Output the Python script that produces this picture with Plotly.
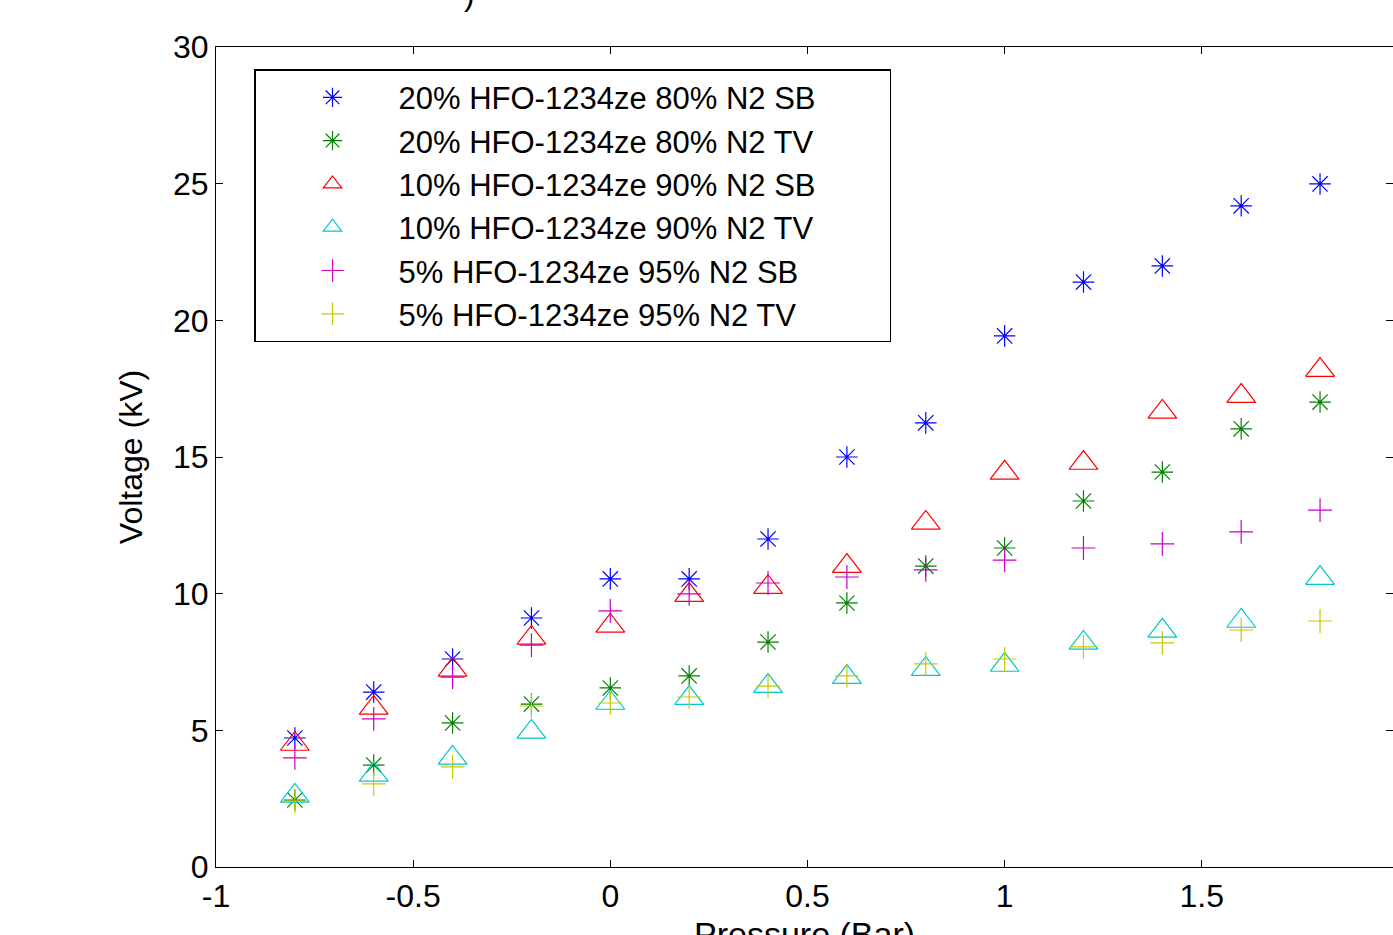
import plotly.graph_objects as go

pressure = [-0.8, -0.6, -0.4, -0.2, 0.0, 0.2, 0.4, 0.6, 0.8, 1.0, 1.2, 1.4, 1.6, 1.8, 2.0]

v20_sb = [4.72, 6.40, 7.61, 9.11, 10.54, 10.54, 12.0, 15.0, 16.25, 19.43, 21.4, 21.99, 24.19, 24.99, 27.44]
v20_tv = [2.45, 3.73, 5.27, 5.96, 6.55, 6.99, 8.23, 9.66, 11.01, 11.67, 13.39, 14.45, 16.03, 17.01, 18.07]
v10_sb = [4.5, 5.82, 7.21, 8.38, 8.82, 9.95, 10.24, 11.01, 12.59, 14.42, 14.78, 16.65, 17.23, 18.18, 20.97]
v10_tv = [2.6, 3.37, 3.99, 4.94, 6.0, 6.18, 6.62, 6.95, 7.24, 7.39, 8.2, 8.64, 9.0, 10.57, 11.78]
v5_sb = [3.99, 5.42, 6.95, 8.12, 9.37, 9.99, 10.39, 10.61, 10.87, 11.23, 11.67, 11.82, 12.26, 13.06, 14.96]
v5_tv = [2.41, 3.04, 3.66, 5.89, 6.0, 6.22, 6.62, 6.99, 7.43, 7.61, 8.05, 8.2, 8.67, 9.0, 9.66]

names = [
    "20% HFO-1234ze 80% N2 SB",
    "20% HFO-1234ze 80% N2 TV",
    "10% HFO-1234ze 90% N2 SB",
    "10% HFO-1234ze 90% N2 TV",
    "5% HFO-1234ze 95% N2 SB",
    "5% HFO-1234ze 95% N2 TV",
]
series = [v20_sb, v20_tv, v10_sb, v10_tv, v5_sb, v5_tv]
colors = ["#0000FF", "#008000", "#FF0000", "#00C8C8", "#C800C8", "#C8C800"]
symbols = ["asterisk-open", "asterisk-open", "triangle-up-open", "triangle-up-open",
           "cross-thin-open", "cross-thin-open"]
sizes = [18, 18, 25, 25, 17, 17]

PAD = "\u00a0" * 8

fig = go.Figure()
for i, (nm, vals) in enumerate(zip(names, series)):
    fig.add_trace(go.Scatter(
        x=pressure, y=vals, mode="markers", name=nm + PAD,
        cliponaxis=False,
        marker=dict(symbol=symbols[i], size=sizes[i], color=colors[i],
                    line=dict(color=colors[i], width=1.2)),
    ))

# invisible trace to carry the mirrored right-hand ticks
fig.add_trace(go.Scatter(x=[0], y=[0], yaxis="y2", mode="markers",
                         marker=dict(opacity=0), showlegend=False, hoverinfo="skip"))

font_family = "Liberation Sans, Arial, sans-serif"

fig.update_layout(
    width=1393, height=935,
    margin=dict(l=216, r=0, t=47, b=68),
    paper_bgcolor="white", plot_bgcolor="white",
    font=dict(family=font_family, size=32, color="black"),
    showlegend=True,
    legend=dict(
        x=0.0323, y=0.973, xanchor="left", yanchor="top",
        bgcolor="white", bordercolor="black", borderwidth=1.5,
        font=dict(size=31, family=font_family),
        indentation=11, itemwidth=122,
    ),
    xaxis=dict(
        range=[-1, 1.985], tickvals=[-1, -0.5, 0, 0.5, 1, 1.5],
        ticktext=["-1", "-0.5", "0", "0.5", "1", "1.5"],
        ticks="inside", ticklen=7, tickcolor="black", tickwidth=1.2,
        showline=True, linecolor="black", linewidth=1.2, mirror="ticks",
        showgrid=False, zeroline=False,
        automargin=False,
        tickfont=dict(size=32),
    ),
    yaxis=dict(
        range=[0, 30], tickvals=[0, 5, 10, 15, 20, 25, 30],
        ticks="inside", ticklen=7, tickcolor="black", tickwidth=1.2,
        showline=True, linecolor="black", linewidth=1.2, mirror=False,
        showgrid=False, zeroline=False,
        title=dict(text="Voltage (kV)", font=dict(size=32), standoff=20),
        automargin=False,
        tickfont=dict(size=32),
    ),
    yaxis2=dict(
        overlaying="y", side="right", matches="y", range=[0, 30],
        tickvals=[0, 5, 10, 15, 20, 25, 30],
        ticks="inside", ticklen=7, tickcolor="black", tickwidth=1.2,
        showticklabels=False, showline=False, showgrid=False, zeroline=False,
    ),
)

# x-axis title (partly below the visible page, as in the reference)
fig.add_annotation(text="Pressure (Bar)", xref="paper", yref="paper", x=0.5, y=-0.0555,
                   xanchor="center", yanchor="top", showarrow=False,
                   font=dict(size=34, family=font_family))

fig.add_annotation(text=")", xref="paper", yref="paper", x=0.215, y=1.04,
                   xanchor="center", yanchor="bottom", showarrow=False,
                   font=dict(size=32, family=font_family))

fig.write_html("out.html")
